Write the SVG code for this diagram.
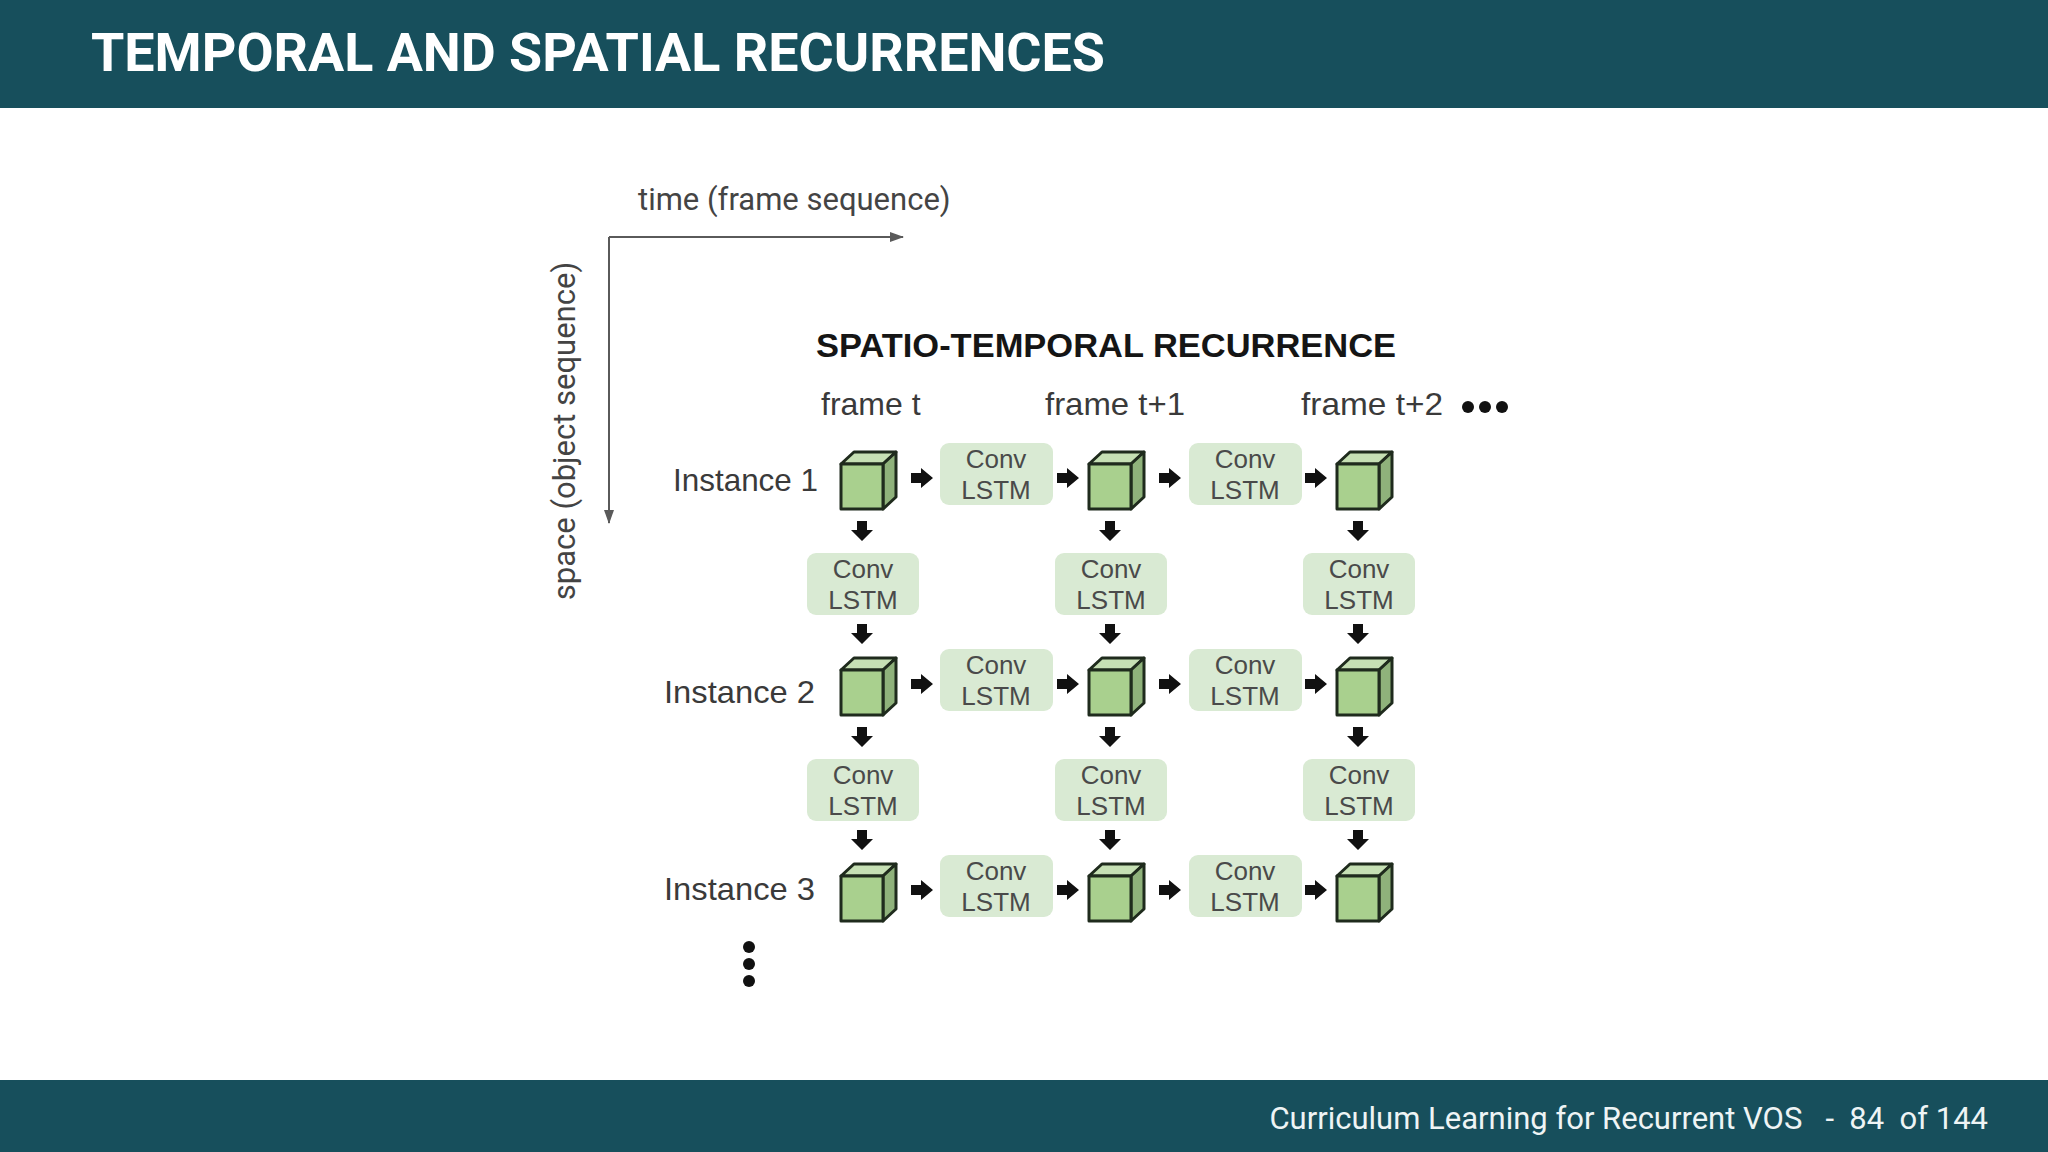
<svg xmlns="http://www.w3.org/2000/svg" xmlns:xlink="http://www.w3.org/1999/xlink" width="2048" height="1152" viewBox="0 0 2048 1152">
<style>
.bar{fill:#174f5c}
.title{font-family:Roboto,"Liberation Sans",sans-serif;font-weight:bold;font-size:54px;fill:#ffffff}
.foot{font-family:Roboto,"Liberation Sans",sans-serif;font-size:31px;fill:#eef4f5}
.axis{stroke:#5a5a5a;stroke-width:2;fill:none}
.axlab{font-family:Roboto,"Liberation Sans",sans-serif;font-size:31px;fill:#444444}
.head{font-family:"Liberation Sans",Arial,sans-serif;font-weight:bold;font-size:34px;fill:#151515}
.lab{font-family:"Liberation Sans",Arial,sans-serif;font-size:32px;fill:#3a3a3a}
.box rect{fill:#d9ead3}
.box text{font-family:"Liberation Sans",Arial,sans-serif;font-size:26px;fill:#4a4a4a;text-anchor:middle}
.arr{fill:#111111}
.dot{fill:#111111}
</style>
<defs>
<marker id="axhead" markerWidth="14" markerHeight="10" refX="13" refY="5" orient="auto" markerUnits="userSpaceOnUse">
<path d="M0,0 L14,5 L0,10 Z" fill="#5a5a5a"/>
</marker>
<path id="ra" d="M0,-5 H10 V-10 L22,0 L10,10 V5 H0 Z"/>
<path id="da" d="M-5,0 V9 H-11 L0,20 L11,9 H5 V0 Z"/>
<g id="cube" stroke="#1f2b1d" stroke-width="3" stroke-linejoin="round">
<path fill="#c6e0b4" d="M0,0 L13,-12 H55 L42,0 Z"/>
<path fill="#8fb27b" d="M42,0 L55,-12 V33 L42,45 Z"/>
<rect fill="#a9d08e" x="0" y="0" width="42" height="45"/>
</g>
</defs>

<rect class="bar" x="0" y="0" width="2048" height="108"/>
<text class="title" x="91" y="71" textLength="1014" lengthAdjust="spacingAndGlyphs">TEMPORAL AND SPATIAL RECURRENCES</text>

<rect class="bar" x="0" y="1080" width="2048" height="72"/>
<text class="foot" x="1988" y="1129" text-anchor="end" xml:space="preserve">Curriculum Learning for Recurrent VOS   -  84  of 144</text>

<g id="axes">
<path class="axis" d="M609,237 H903" marker-end="url(#axhead)"/>
<path class="axis" d="M609,237 V523" marker-end="url(#axhead)"/>
<text class="axlab" x="638" y="210">time (frame sequence)</text>
<text class="axlab" transform="translate(575,431) rotate(-90)" text-anchor="middle">space (object sequence)</text>
</g>

<text class="head" x="816" y="357" textLength="580" lengthAdjust="spacingAndGlyphs">SPATIO-TEMPORAL RECURRENCE</text>
<text class="lab" x="821" y="415">frame t</text>
<text class="lab" x="1045" y="415" textLength="140" lengthAdjust="spacingAndGlyphs">frame t+1</text>
<text class="lab" x="1301" y="415" textLength="142" lengthAdjust="spacingAndGlyphs">frame t+2</text>
<g id="hdots"><circle class="dot" cx="1468" cy="407" r="6"/><circle class="dot" cx="1485" cy="407" r="6"/><circle class="dot" cx="1502" cy="407" r="6"/></g>

<text class="lab" x="673" y="491" textLength="145" lengthAdjust="spacingAndGlyphs">Instance 1</text>
<text class="lab" x="664" y="703" textLength="151" lengthAdjust="spacingAndGlyphs">Instance 2</text>
<text class="lab" x="664" y="900" textLength="151" lengthAdjust="spacingAndGlyphs">Instance 3</text>

<g id="cubes">
<g id="c11"><use xlink:href="#cube" x="841" y="464"/></g>
<g id="c12"><use xlink:href="#cube" x="1089" y="464"/></g>
<g id="c13"><use xlink:href="#cube" x="1337" y="464"/></g>
<g id="c21"><use xlink:href="#cube" x="841" y="670"/></g>
<g id="c22"><use xlink:href="#cube" x="1089" y="670"/></g>
<g id="c23"><use xlink:href="#cube" x="1337" y="670"/></g>
<g id="c31"><use xlink:href="#cube" x="841" y="876"/></g>
<g id="c32"><use xlink:href="#cube" x="1089" y="876"/></g>
<g id="c33"><use xlink:href="#cube" x="1337" y="876"/></g>
</g>

<g id="hboxes">
<g id="h11" class="box"><rect x="940" y="443" width="113" height="62" rx="9"/><text x="996" y="468">Conv</text><text x="996" y="499">LSTM</text></g>
<g id="h12" class="box"><rect x="1189" y="443" width="113" height="62" rx="9"/><text x="1245" y="468">Conv</text><text x="1245" y="499">LSTM</text></g>
<g id="h21" class="box"><rect x="940" y="649" width="113" height="62" rx="9"/><text x="996" y="674">Conv</text><text x="996" y="705">LSTM</text></g>
<g id="h22" class="box"><rect x="1189" y="649" width="113" height="62" rx="9"/><text x="1245" y="674">Conv</text><text x="1245" y="705">LSTM</text></g>
<g id="h31" class="box"><rect x="940" y="855" width="113" height="62" rx="9"/><text x="996" y="880">Conv</text><text x="996" y="911">LSTM</text></g>
<g id="h32" class="box"><rect x="1189" y="855" width="113" height="62" rx="9"/><text x="1245" y="880">Conv</text><text x="1245" y="911">LSTM</text></g>
</g>

<g id="vboxes">
<g id="v11" class="box"><rect x="807" y="553" width="112" height="62" rx="9"/><text x="863" y="578">Conv</text><text x="863" y="609">LSTM</text></g>
<g id="v12" class="box"><rect x="1055" y="553" width="112" height="62" rx="9"/><text x="1111" y="578">Conv</text><text x="1111" y="609">LSTM</text></g>
<g id="v13" class="box"><rect x="1303" y="553" width="112" height="62" rx="9"/><text x="1359" y="578">Conv</text><text x="1359" y="609">LSTM</text></g>
<g id="v21" class="box"><rect x="807" y="759" width="112" height="62" rx="9"/><text x="863" y="784">Conv</text><text x="863" y="815">LSTM</text></g>
<g id="v22" class="box"><rect x="1055" y="759" width="112" height="62" rx="9"/><text x="1111" y="784">Conv</text><text x="1111" y="815">LSTM</text></g>
<g id="v23" class="box"><rect x="1303" y="759" width="112" height="62" rx="9"/><text x="1359" y="784">Conv</text><text x="1359" y="815">LSTM</text></g>
</g>

<g id="connectors" class="arr">
<use xlink:href="#ra" x="911" y="478"/><use xlink:href="#ra" x="1057" y="478"/><use xlink:href="#ra" x="1159" y="478"/><use xlink:href="#ra" x="1305" y="478"/>
<use xlink:href="#ra" x="911" y="684"/><use xlink:href="#ra" x="1057" y="684"/><use xlink:href="#ra" x="1159" y="684"/><use xlink:href="#ra" x="1305" y="684"/>
<use xlink:href="#ra" x="911" y="890"/><use xlink:href="#ra" x="1057" y="890"/><use xlink:href="#ra" x="1159" y="890"/><use xlink:href="#ra" x="1305" y="890"/>
<use xlink:href="#da" x="862" y="521"/><use xlink:href="#da" x="1110" y="521"/><use xlink:href="#da" x="1358" y="521"/>
<use xlink:href="#da" x="862" y="624"/><use xlink:href="#da" x="1110" y="624"/><use xlink:href="#da" x="1358" y="624"/>
<use xlink:href="#da" x="862" y="727"/><use xlink:href="#da" x="1110" y="727"/><use xlink:href="#da" x="1358" y="727"/>
<use xlink:href="#da" x="862" y="830"/><use xlink:href="#da" x="1110" y="830"/><use xlink:href="#da" x="1358" y="830"/>
</g>

<g id="vdots"><circle class="dot" cx="749" cy="947" r="6"/><circle class="dot" cx="749" cy="964" r="6"/><circle class="dot" cx="749" cy="981" r="6"/></g>
</svg>
